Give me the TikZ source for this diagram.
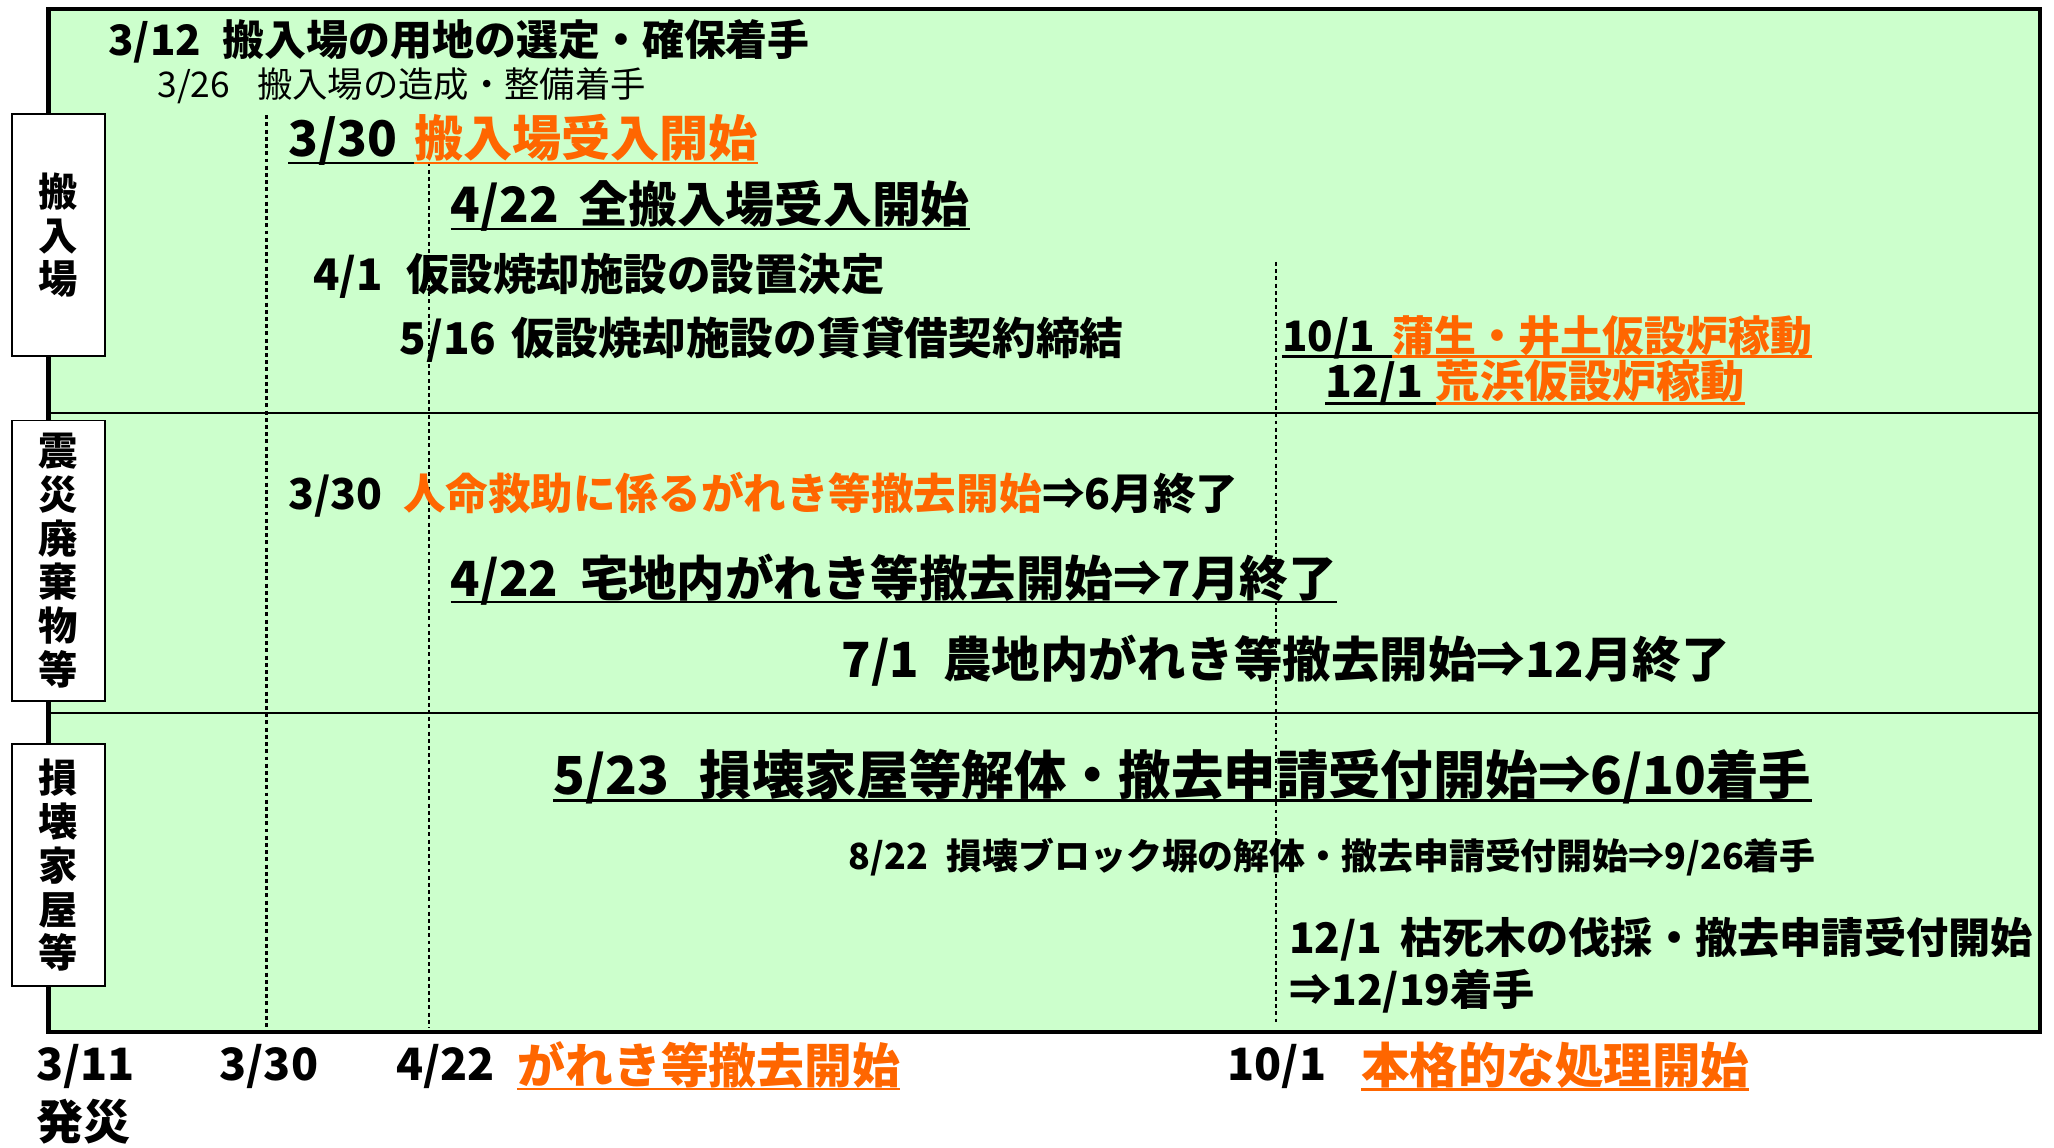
\documentclass[tikz,border=0pt]{standalone}
\usepackage{fontspec}
\newfontfamily\jp{Noto Sans CJK JP}
\definecolor{bg}{RGB}{204,255,204}
\definecolor{orn}{RGB}{255,102,0}
\tikzset{
  J/.style={inner sep=0pt, anchor=west, font=\jp\bfseries\fontsize{#1}{#1}\selectfont, text height={0.88*#1pt}, text depth={0.12*#1pt}},
  JR/.style={inner sep=0pt, anchor=west, font=\jp\fontsize{#1}{#1}\selectfont, text height={0.88*#1pt}, text depth={0.12*#1pt}},
  O/.style={text=orn},
  ul/.style={line width=1.8pt, black},
  ulo/.style={line width=1.8pt, orn},
  dotline/.style={line width=1.7pt, dash pattern=on 3pt off 2.5pt},
  lab/.style={draw, line width=1.5pt, fill=white, minimum width=71pt, inner sep=0pt, align=center, font=\jp\bfseries\fontsize{30}{33.5}\selectfont},
}
\begin{document}
\begin{tikzpicture}[x=1pt,y=-1pt]
\useasboundingbox (0,0) rectangle (1568,876);
% frame
\coordinate (TL) at (37,7);
\coordinate (BR) at (1557,788);
\draw[fill=bg, line width=3.2pt] (TL) rectangle (BR);
\coordinate (r1a) at (37,315); \coordinate (r1b) at (1557,315);
\coordinate (r2a) at (37,544); \coordinate (r2b) at (1557,544);
\draw[line width=1.6pt] (r1a) -- (r1b);
\draw[line width=1.6pt] (r2a) -- (r2b);
% dotted guide lines
\coordinate (v1a) at (203.5,88);  \coordinate (v1b) at (203.5,785);
\coordinate (v2a) at (327.5,124); \coordinate (v2b) at (327.5,785);
\coordinate (v3a) at (974,200);   \coordinate (v3b) at (974,780);
\draw[dotline] (v1a) -- (v1b);
\draw[dotline] (v2a) -- (v2b);
\draw[dotline] (v3a) -- (v3b);

% row 1
\node[J=32] (d1) at (82.5,30.5) {3/12};
\node[J=32] (t1) at (170,30.5) {搬入場の用地の選定・確保着手};
\node[JR=27] (d2) at (120,64) {3/26};
\node[JR=27] (t2) at (196,64) {搬入場の造成・整備着手};
\node[J=37.5] (d3) at (220,105.5) {3/30};
\node[J=37.5,O] (t3) at (316,105.5) {搬入場受入開始};
\draw[ul] (d3.south west) -- (t3.south west);
\draw[ulo] (t3.south west) -- (t3.south east);
\node[J=37.2] (d4) at (344,156) {4/22};
\node[J=37.2] (t4) at (442.4,156) {全搬入場受入開始};
\draw[ul] (d4.south west) -- (t4.south east);
\node[J=33.2] (d5) at (239,209.5) {4/1};
\node[J=33.2] (t5) at (310,209.5) {仮設焼却施設の設置決定};
\node[J=33.4] (d6) at (305,257.7) {5/16};
\node[J=33.4] (t6) at (390,257.7) {仮設焼却施設の賃貸借契約締結};
\node[J=32] (d7) at (978.6,256) {10/1};
\node[J=32,O] (t7) at (1063,256) {蒲生・井土仮設炉稼動};
\draw[ul] (d7.south west) -- (t7.south west);
\draw[ulo] (t7.south west) -- (t7.south east);
\node[J=33.7] (d8) at (1011.6,291) {12/1};
\node[J=33.7,O] (t8) at (1096,291) {荒浜仮設炉稼動};
\draw[ul] (d8.south west) -- (t8.south west);
\draw[ulo] (t8.south west) -- (t8.south east);

% row 2
\node[J=32.5] (d9) at (220,376.7) {3/30};
\node[J=32.5,O] (t9) at (307.5,376.7) {人命救助に係るがれき等撤去開始};
\node[J=32.5] (t9b) at (t9.east) {⇒6月終了};
\node[J=37] (d10) at (344,441) {4/22};
\node[J=37] (t10) at (442.6,441) {宅地内がれき等撤去開始⇒7月終了};
\draw[ul] (d10.south west) -- (t10.south east);
\node[J=37] (d11) at (642.4,503) {7/1};
\node[J=37] (t11) at (720,503) {農地内がれき等撤去開始⇒12月終了};

% row 3
\node[J=40] (d12) at (422.4,591) {5/23};
\node[J=40] (t12) at (534,591) {損壊家屋等解体・撤去申請受付開始⇒6/10着手};
\draw[ul] (d12.south west) -- (t12.south east);
\node[J=27.4] (d13) at (647.5,653.5) {8/22};
\node[J=27.4] (t13) at (722.5,653.5) {損壊ブロック塀の解体・撤去申請受付開始⇒9/26着手};
\node[J=32.2] (d14) at (984,716) {12/1};
\node[J=32.2] (t14) at (1068.6,716) {枯死木の伐採・撤去申請受付開始};
\node[J=32.2] (t14b) at (984,755) {⇒12/19着手};

% bottom axis
\node[J=34] (b1) at (27.5,812) {3/11};
\node[J=36] (b2) at (27.5,856) {発災};
\node[J=34] (b3) at (167.5,812) {3/30};
\node[J=34] (b4) at (302.5,812) {4/22};
\node[J=36.5,O] (b5) at (395,813) {がれき等撤去開始};
\draw[ulo] (b5.south west) -- (b5.south east);
\node[J=34] (b6) at (937,812) {10/1};
\node[J=37,O] (b7) at (1039,813) {本格的な処理開始};
\draw[ulo] (b7.south west) -- (b7.south east);

% side labels
\node[lab, minimum height=185pt] (L1) at (44.5,179.5) {搬\\入\\場};
\node[lab, minimum height=214pt] (L2) at (44.5,428) {震\\災\\廃\\棄\\物\\等};
\node[lab, minimum height=185pt] (L3) at (44.5,660.5) {損\\壊\\家\\屋\\等};
\end{tikzpicture}
\end{document}
